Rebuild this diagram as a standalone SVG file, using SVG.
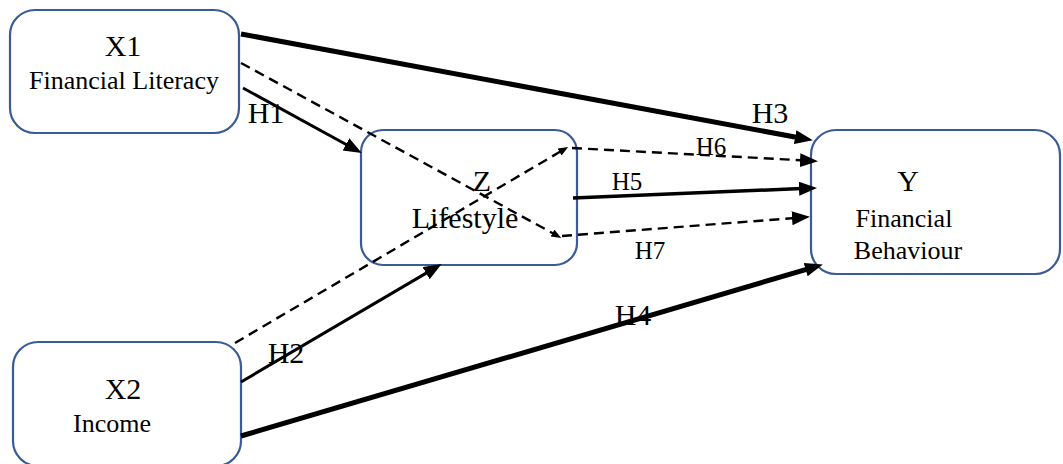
<svg xmlns="http://www.w3.org/2000/svg" width="1063" height="464" viewBox="0 0 1063 464">
<style>
.box{fill:#fff;stroke:#3A5A98;stroke-width:2.2}
.t{font-family:'Liberation Serif','Times New Roman',Tinos,'DejaVu Serif',serif;fill:#000;text-anchor:middle}
.big{font-size:30px}
.mid{font-size:26px}
.lab{font-size:30px}
.lab2{font-size:25px}
.solid{stroke:#000;fill:none}
.dash{stroke:#000;fill:none;stroke-width:2.4;stroke-dasharray:10 6}
</style>
<defs>
<marker id="ah" markerUnits="userSpaceOnUse" markerWidth="20" markerHeight="16" refX="8" refY="7" orient="auto">
<path d="M0,0 L18,7 L0,14 Z" fill="#000"/>
</marker>
<marker id="ahs" markerUnits="userSpaceOnUse" markerWidth="12" markerHeight="10" refX="4" refY="4" orient="auto">
<path d="M0,0 L10,4 L0,8 Z" fill="#000"/>
</marker>
</defs>
<g id="X1">
<rect class="box" x="10" y="10" width="229" height="123" rx="25"/>
<text class="t big" x="123" y="56">X1</text>
<text class="t mid" x="124" y="89">Financial Literacy</text>
</g>
<g id="X2">
<rect class="box" x="13" y="342" width="228" height="124" rx="25"/>
<text class="t big" x="123" y="399">X2</text>
<text class="t mid" x="112" y="432">Income</text>
</g>
<g id="Z">
<rect class="box" x="361" y="130" width="216" height="135" rx="22"/>
<text class="t big" x="482" y="191">Z</text>
<text class="t big" x="465" y="228">Lifestyle</text>
</g>
<g id="Y">
<rect class="box" x="811" y="130" width="249" height="144" rx="25"/>
<text class="t big" x="908" y="191">Y</text>
<text class="t mid" x="904" y="227">Financial</text>
<text class="t mid" x="908" y="259">Behaviour</text>
</g>
<g id="connectors">
<line class="solid" stroke-width="5" x1="241" y1="34" x2="803" y2="138.5" marker-end="url(#ah)"/>
<line class="solid" stroke-width="3" x1="243" y1="88" x2="353" y2="148.2" marker-end="url(#ah)"/>
<line class="solid" stroke-width="3" x1="241" y1="382" x2="433" y2="269.1" marker-end="url(#ah)"/>
<line class="solid" stroke-width="3.5" x1="573" y1="198" x2="807" y2="188.3" marker-end="url(#ah)"/>
<line class="solid" stroke-width="5" x1="241" y1="436" x2="813.3" y2="267.3" marker-end="url(#ah)"/>
<line class="dash" x1="241" y1="63" x2="556" y2="235" marker-end="url(#ahs)"/>
<line class="dash" x1="235" y1="343" x2="563" y2="150" marker-end="url(#ahs)"/>
<line class="dash" x1="572" y1="148" x2="808" y2="160.6" marker-end="url(#ah)"/>
<line class="dash" x1="562" y1="236" x2="800" y2="217.6" marker-end="url(#ah)"/>
</g>
<g id="labels">
<text class="t lab" x="266" y="123">H1</text>
<text class="t lab" x="286" y="363">H2</text>
<text class="t lab" x="770" y="123">H3</text>
<text class="t lab" x="633" y="325">H4</text>
<text class="t lab2" x="627" y="190">H5</text>
<text class="t lab2" x="711" y="155">H6</text>
<text class="t lab2" x="650" y="259">H7</text>
</g>
</svg>
